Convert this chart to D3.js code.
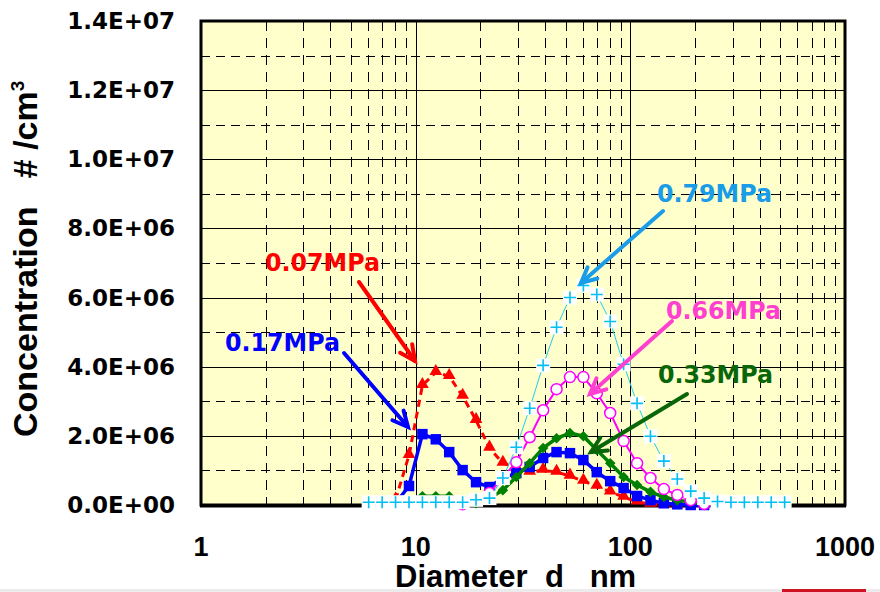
<!DOCTYPE html>
<html>
<head>
<meta charset="utf-8">
<script src="https://cdn.jsdelivr.net/npm/d3@7"></script>
<style>
  body { margin: 0; background: #fff; }
  svg { display: block; }
  .tick-y { font-family: "DejaVu Sans", sans-serif; font-weight: bold; font-size: 23px; }
  .tick-x { font-family: "Liberation Sans", Arial, sans-serif; font-weight: bold; font-size: 27px; }
</style>
</head>
<body>
<svg id="chart" width="880" height="592"></svg>
<script>
// channel mid diameters (nm), 16 channels / decade
var diameters = [6.04, 6.98, 8.06, 9.31, 10.75, 12.41, 14.33, 16.55, 19.11, 22.07, 25.48, 29.43,
  33.98, 39.24, 45.32, 52.33, 60.43, 69.78, 80.58, 93.06, 107.5, 124.1, 143.3, 165.5,
  191.1, 220.7, 254.8, 294.3, 339.8, 392.4, 453.2, 523.3];

// concentrations in units of 1E6 #/cm3 (null = no point)
var p007 = [null, null, 0.15, 1.44, 3.46, 3.84, 3.72, 3.15, 2.45, 1.65, 1.21, 1.07,
  0.95, 1.01, 0.95, 0.84, 0.69, 0.55, 0.38, 0.23, 0.09, 0.03, 0, 0,
  null, null, null, null, null, null, null, null];
var p017 = [null, null, 0.05, 0.55, 2.05, 1.9, 1.53, 1.01, 0.66, 0.52, 0.78, 0.92,
  1.1, 1.36, 1.53, 1.5, 1.3, 0.95, 0.69, 0.49, 0.26, 0.14, 0.05, 0.02,
  0, 0, null, null, null, null, null, null];
var p033 = [null, null, null, 0.05, 0.25, 0.25, 0.25, 0.1, 0.05, 0.2, 0.43, 0.81,
  1.21, 1.65, 1.93, 2.08, 1.99, 1.59, 1.21, 0.81, 0.58, 0.38, 0.23, 0.14,
  0.09, 0.03, null, null, null, null, null, null];
var p066 = [null, null, null, null, null, null, null, 0.02, 0.15, 0.35, 0.8, 1.24,
  1.96, 2.74, 3.35, 3.7, 3.7, 3.23, 2.66, 1.85, 1.21, 0.78, 0.46, 0.29,
  0.14, 0.03, null, null, null, null, null, null];
var p079 = [0.08, 0.08, 0.08, 0.08, 0.08, 0.08, 0.08, 0.08, 0.15, 0.2, 0.78, 1.67,
  2.8, 4.04, 5.14, 6.0, 6.35, 6.09, 5.31, 4.07, 2.94, 1.99, 1.27, 0.75,
  0.4, 0.2, 0.1, 0.08, 0.08, 0.08, 0.08, 0.08];

var yTicks = [0, 2e6, 4e6, 6e6, 8e6, 10e6, 12e6, 14e6];
var yTickLabels = ["0.0E+00", "2.0E+06", "4.0E+06", "6.0E+06", "8.0E+06", "1.0E+07", "1.2E+07", "1.4E+07"];
var xTicks = [1, 10, 100, 1000];

var labels = ["0.07MPa", "0.17MPa", "0.33MPa", "0.66MPa", "0.79MPa"];
var labelColors = ["#ff0000", "#0000ff", "#086608", "#ff3fcf", "#1a9ce8"];

var svg = d3.select("#chart");
var pLeft = 201, pRight = 845, pTop = 21, pBottom = 505;

var x = d3.scaleLog().domain([1, 1000]).range([pLeft, pRight]);
var y = d3.scaleLinear().domain([0, 14e6]).range([pBottom, pTop]);

// plot area
svg.append("rect")
  .attr("x", pLeft).attr("y", pTop)
  .attr("width", pRight - pLeft).attr("height", pBottom - pTop)
  .attr("fill", "#ffffcc");

// horizontal grid
var hgrid = d3.range(1e6, 14e6, 1e6);
svg.append("g").selectAll("line").data(hgrid).join("line")
  .attr("x1", pLeft).attr("x2", pRight)
  .attr("y1", d => Math.round(y(d)) + 0.5).attr("y2", d => Math.round(y(d)) + 0.5)
  .attr("stroke", "#000").attr("stroke-width", 1)
  .attr("stroke-dasharray", d => (Math.round(d / 1e6) % 2 == 0) ? null : "9,6");

// vertical grid
var vgrid = [];
[1, 10, 100].forEach(function(dec) {
  for (var m = 1; m < 10; m++) if (dec * m > 1) vgrid.push(dec * m);
});
svg.append("g").selectAll("line").data(vgrid).join("line")
  .attr("y1", pTop).attr("y2", pBottom)
  .attr("x1", d => Math.round(x(d)) + 0.5).attr("x2", d => Math.round(x(d)) + 0.5)
  .attr("stroke", "#000").attr("stroke-width", 1)
  .attr("stroke-dasharray", d => ([10, 100].indexOf(d) >= 0) ? null : "10,7");

// left inner ticks
svg.append("g").selectAll("line").data(hgrid).join("line")
  .attr("x1", pLeft).attr("x2", pLeft + 7)
  .attr("y1", d => Math.round(y(d)) + 0.5).attr("y2", d => Math.round(y(d)) + 0.5)
  .attr("stroke", "#000");

// frame
svg.append("rect")
  .attr("x", pLeft).attr("y", pTop)
  .attr("width", pRight - pLeft).attr("height", pBottom - pTop)
  .attr("fill", "none").attr("stroke", "#000").attr("stroke-width", 3);
svg.append("line")
  .attr("x1", pLeft - 1).attr("x2", pRight + 1)
  .attr("y1", pBottom + 1).attr("y2", pBottom + 1)
  .attr("stroke", "#000").attr("stroke-width", 3);

// y tick labels
svg.append("g").selectAll("text").data(yTicks).join("text")
  .attr("class", "tick-y")
  .attr("x", 175).attr("y", d => y(d) + 8)
  .attr("text-anchor", "end")
  .text((d, i) => yTickLabels[i]);

// x tick labels
svg.append("g").selectAll("text").data(xTicks).join("text")
  .attr("class", "tick-x")
  .attr("x", d => x(d)).attr("y", 556)
  .attr("text-anchor", "middle")
  .text(d => d);

// axis titles
svg.append("text")
  .attr("x", 395).attr("y", 587)
  .attr("font-family", "Liberation Sans, Arial, sans-serif")
  .attr("font-weight", "bold").attr("font-size", 31)
  .style("white-space", "pre")
  .text("Diameter  d   nm");

var yt = svg.append("text")
  .attr("transform", "translate(37,437) rotate(-90)")
  .attr("font-family", "Liberation Sans, Arial, sans-serif")
  .attr("font-weight", "bold").attr("font-size", 34)
  .style("white-space", "pre");
yt.append("tspan").text("Concentration   # /cm");
yt.append("tspan").attr("font-size", 19).attr("dy", -13).text("3");

// series
function pts(vals) {
  return diameters.map((d, i) => ({ d: d, v: vals[i] })).filter(p => p.v != null);
}
var line = d3.line().x(p => x(p.d)).y(p => y(p.v * 1e6));

function drawLine(vals, color, width, dash) {
  svg.append("path").datum(pts(vals))
    .attr("d", line).attr("fill", "none")
    .attr("stroke", color).attr("stroke-width", width)
    .attr("stroke-dasharray", dash);
}

// 0.07MPa red triangles, dashed
drawLine(p007, "#ff0000", 3, "7,5");
svg.append("g").selectAll("path").data(pts(p007)).join("path")
  .attr("d", d3.symbol(d3.symbolTriangle, 70))
  .attr("transform", p => "translate(" + x(p.d) + "," + (y(p.v * 1e6) - 1) + ")")
  .attr("fill", "#ff0000");

// 0.17MPa blue squares
drawLine(p017, "#0000ff", 3.5, null);
svg.append("g").selectAll("path").data(pts(p017)).join("path")
  .attr("d", d3.symbol(d3.symbolSquare, 110))
  .attr("transform", p => "translate(" + x(p.d) + "," + y(p.v * 1e6) + ")")
  .attr("fill", "#0000ff");

// 0.33MPa green diamonds
drawLine(p033, "#008000", 3.5, null);
svg.append("g").selectAll("path").data(pts(p033)).join("path")
  .attr("d", d3.symbol(d3.symbolSquare, 56))
  .attr("transform", p => "translate(" + x(p.d) + "," + y(p.v * 1e6) + ") rotate(45)")
  .attr("fill", "#008000");

// 0.66MPa magenta open circles
drawLine(p066, "#ff00ff", 2, null);
svg.append("g").selectAll("circle").data(pts(p066)).join("circle")
  .attr("cx", p => x(p.d)).attr("cy", p => y(p.v * 1e6)).attr("r", 5.5)
  .attr("fill", "#fff").attr("stroke", "#ff00ff").attr("stroke-width", 1.5);

// 0.79MPa cyan plus
drawLine(p079, "#22ccf0", 1, null);
var plus = svg.append("g").selectAll("g").data(pts(p079)).join("g")
  .attr("transform", p => "translate(" + x(p.d) + "," + y(p.v * 1e6) + ")");
plus.append("rect").attr("x", -7).attr("y", -7).attr("width", 14).attr("height", 14).attr("fill", "#fff");
plus.append("path").attr("d", "M-6,0H6M0,-6V6").attr("stroke", "#00bff3").attr("stroke-width", 1.6);

// annotations: label text + arrow [from, to]
var annoText = [[265, 271], [225, 351], [658, 383], [666, 319], [657, 202]];
var arrows = [[359, 282, 415, 361], [344, 353, 408, 427], [687, 394, 591, 452], [672, 321, 590, 394], [663, 211, 581, 283]];

labels.forEach(function(t, i) {
  svg.append("text")
    .attr("x", annoText[i][0]).attr("y", annoText[i][1])
    .attr("font-family", "DejaVu Sans, sans-serif")
    .attr("font-weight", "bold").attr("font-size", 24)
    .attr("textLength", 115).attr("lengthAdjust", "spacingAndGlyphs")
    .attr("fill", labelColors[i]).text(t);
  var a = arrows[i];
  var ang = Math.atan2(a[3] - a[1], a[2] - a[0]);
  var len = 17, spread = 0.45;
  var g = svg.append("g").attr("stroke", labelColors[i]).attr("stroke-width", 4)
    .attr("stroke-linecap", "round").attr("fill", "none");
  g.append("line").attr("x1", a[0]).attr("y1", a[1]).attr("x2", a[2]).attr("y2", a[3]);
  g.append("path").attr("d",
    "M" + (a[2] - len * Math.cos(ang - spread)) + "," + (a[3] - len * Math.sin(ang - spread)) +
    "L" + a[2] + "," + a[3] +
    "L" + (a[2] - len * Math.cos(ang + spread)) + "," + (a[3] - len * Math.sin(ang + spread)));
});

// bottom strip of the source screenshot
svg.append("rect").attr("x", 0).attr("y", 589).attr("width", 880).attr("height", 3).attr("fill", "#ebebeb");
svg.append("rect").attr("x", 782).attr("y", 589).attr("width", 84).attr("height", 3).attr("fill", "#cc1424");
</script>
</body>
</html>
